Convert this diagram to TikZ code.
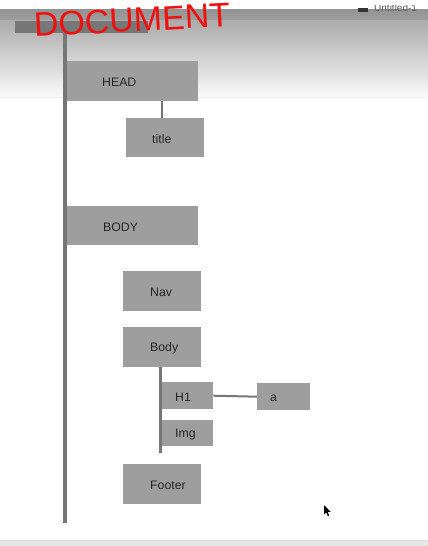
\documentclass[tikz,border=0pt]{standalone}
\usepackage{fontspec}
\setmainfont{Liberation Sans}
\definecolor{boxgray}{HTML}{9F9E9F}
\definecolor{linegray}{HTML}{767676}
\definecolor{txtgray}{HTML}{262626}
\definecolor{bandtop}{HTML}{939393}
\definecolor{bandbot}{HTML}{9E9E9E}
\definecolor{fadetop}{HTML}{ABABAB}
\definecolor{fadebot}{HTML}{F9F9F9}
\definecolor{barbar}{HTML}{777777}
\definecolor{botbar}{HTML}{E6E6E6}
\definecolor{inkred}{HTML}{F01010}
\begin{document}
\begin{tikzpicture}[x=1pt,y=-1pt,
  box/.style={fill=boxgray, draw=none, inner sep=0pt, anchor=north west},
  lab/.style={anchor=west, inner sep=0pt, text=txtgray, font=\fontsize{12.3}{14}\selectfont, yshift=-1.5pt},
  trunk/.style={draw=linegray, line width=4pt},
  branch/.style={draw=linegray, line width=2.5pt},
  link/.style={draw=linegray, line width=2pt}]
\useasboundingbox (0,0) rectangle (428,546);
% window chrome
\fill[white] (0,0) rectangle (428,546);
\shade[top color=bandtop, bottom color=bandbot] (0,9) rectangle (428,20);
\draw[draw=gray!85!black, line width=0.6pt] (0,20) -- (428,20);
\shade[top color=fadetop, bottom color=fadebot] (0,20.3) rectangle (428,96);
\draw[draw=gray!12, line width=0.5pt] (0,97) -- (428,97);
\fill[black!80] (358,8) rectangle (368,12);
\node[anchor=west, inner sep=0pt, text=black!65, font=\fontsize{10}{12}\selectfont] (untitled) at (374,8) {Untitled-1};
\fill[white] (0,0) rectangle (428,5);
\fill[botbar] (0,540) rectangle (428,546);
\draw[draw=gray!30, line width=0.5pt] (0,540) -- (428,540);
% document bar
\fill[barbar] (15,21) rectangle (148,33);
\coordinate (ttop) at (64.5,33);
\coordinate (tbot) at (64.5,523);
\draw[trunk] (ttop) -- (tbot);
% boxes
\node[box, minimum width=131pt, minimum height=40pt] (head) at (67,61) {};
\node[lab] (headl) at ([xshift=35pt]head.west) {HEAD};
\node[box, minimum width=78pt, minimum height=39pt] (title) at (126,118) {};
\node[lab] (titlel) at ([xshift=26pt]title.west) {title};
\node[box, minimum width=131pt, minimum height=39pt] (body) at (67,206) {};
\node[lab] (bodyl) at ([xshift=36pt]body.west) {BODY};
\node[box, minimum width=78pt, minimum height=40pt] (nav) at (123,271) {};
\node[lab] (navl) at ([xshift=27pt]nav.west) {Nav};
\node[box, minimum width=78pt, minimum height=40pt] (inner) at (123,327) {};
\node[lab] (innerl) at ([xshift=27pt]inner.west) {Body};
\node[box, minimum width=51pt, minimum height=27pt] (h1) at (162,382) {};
\node[lab] (h1l) at ([xshift=13pt]h1.west) {H1};
\node[box, minimum width=53pt, minimum height=27pt] (a) at (257,383) {};
\node[lab] (al) at ([xshift=13pt]a.west) {a};
\node[box, minimum width=51pt, minimum height=26pt] (img) at (162,420) {};
\node[lab] (imgl) at ([xshift=13pt]img.west) {Img};
\node[box, minimum width=78pt, minimum height=40pt] (footer) at (123,464) {};
\node[lab] (footerl) at ([xshift=27pt]footer.west) {Footer};
% connectors
\coordinate (hx) at (162,0);
\draw[link] (head.south -| hx) -- (title.north -| hx);
\coordinate (bx) at (160.5,0);
\coordinate (bend) at (160.5,453);
\draw[branch] (inner.south -| bx) -- (bend);
\draw[link] (h1.east) -- (a.west);
% handwriting
\node[text=inkred, inner sep=0pt, rotate=3, font=\fontsize{34}{36}\selectfont] (doc) at (132,20) {DOCUMENT};
% cursor
\fill[black] (324,505) -- (324,514.5) -- (326.2,512.3) -- (327.8,516) -- (329.2,515.4) -- (327.6,511.8) -- (330.6,511.8) -- cycle;
\end{tikzpicture}
\end{document}
